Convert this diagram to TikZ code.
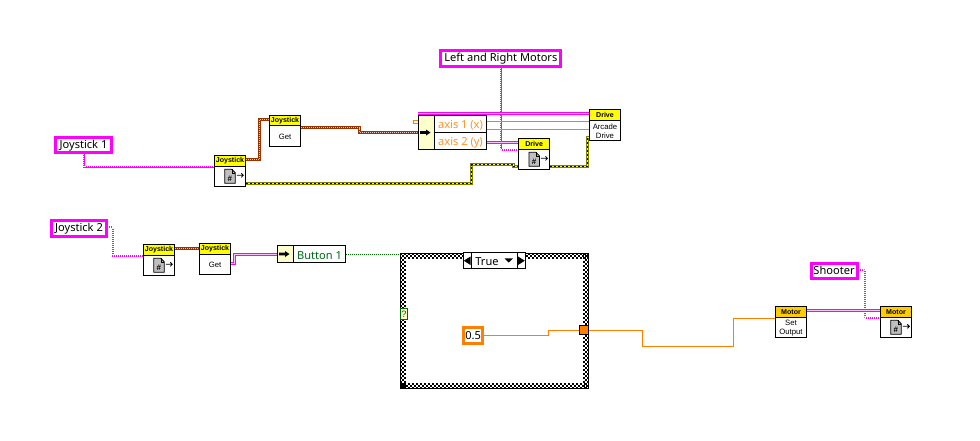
\documentclass[tikz,border=0pt]{standalone}
\usepackage{fontspec}
\setmainfont{Noto Sans}
\newfontfamily\smallfont{Liberation Sans}
\definecolor{refpink}{HTML}{FF00FF}
\definecolor{brownw}{HTML}{993300}
\definecolor{olivew}{HTML}{7F7F00}
\definecolor{yellw}{HTML}{FFFF00}
\definecolor{dblorange}{HTML}{FF8000}
\definecolor{motorhead}{HTML}{FFCC00}
\definecolor{palefill}{HTML}{FFFFCC}
\definecolor{greenw}{HTML}{006600}
\definecolor{docgrey}{HTML}{BFBFBF}
\pgfdeclarelayer{frame}
\pgfdeclarelayer{wires}
\pgfsetlayers{frame,wires,main}
\newcommand{\lowr}[1]{\raisebox{-0.9pt}{#1}}
\tikzset{
  x=0.75pt,y=-0.75pt,
  wirejoin/.style={line join=miter,line cap=butt},
  refone/.style={wirejoin,draw=refpink,line width=1.5pt,postaction={draw=white,line width=0.8pt,dash pattern=on 0.75pt off 0.75pt}},
  reftwo/.style={wirejoin,draw=refpink,line width=2.4pt,postaction={draw=refpink!25!white,line width=0.6pt}},
  brownwire/.style={wirejoin,draw=brownw,line width=2.4pt,postaction={draw=brownw!25!white,line width=0.6pt,dash pattern=on 0.75pt off 0.75pt}},
  yellowwire/.style={wirejoin,draw=olivew,line width=2.4pt,postaction={draw=yellw,line width=0.9pt},postaction={draw=black,line width=0.9pt,dash pattern=on 1.5pt off 1.5pt}},
  orangewire/.style={wirejoin,draw=dblorange,line width=0.8pt},
  greenwire/.style={draw=greenw,line width=0.75pt,dash pattern=on 0.75pt off 0.75pt},
  ctl/.style={draw=refpink,line width=2.25pt,fill=white,inner sep=0pt,font=\fontsize{8.3}{10}\selectfont,anchor=center},
  blockbody/.style={draw=black,line width=0.75pt,fill=white,inner sep=0pt,minimum width=23.5pt,minimum height=23.5pt},
  blockhead/.style={draw=black,line width=0.75pt,inner sep=0pt,minimum width=23.5pt,minimum height=8pt,font=\smallfont\bfseries\fontsize{5.3}{6}\selectfont,anchor=north},
  blockcaption/.style={font=\smallfont\fontsize{5.8}{6.5}\selectfont,align=center,inner sep=0pt},
  ubox/.style={draw=black,line width=0.75pt,fill=white,inner sep=0pt},
  uleft/.style={draw=black,line width=0.75pt,fill=palefill,inner sep=0pt},
  utext/.style={font=\fontsize{8.3}{10}\selectfont,inner sep=0pt},
  chk/.style={black,line width=1.5pt,dash pattern=on 1.5pt off 1.5pt},
}
\newcommand{\lvblock}[5]{%
  \node[blockbody] (#1) at (#2,#3) {};
  \node[blockhead,fill=#4] (#1head) at (#1.north) {#5};
}
\newcommand{\docicon}[1]{%
  \begin{scope}[shift={(#1.north west)}]
    \fill[docgrey,draw=black,line width=0.6pt] (11,14.5) -- (18,14.5) -- (21.5,18) -- (21.5,28.5) -- (11,28.5) -- cycle;
    \draw[black,line width=0.5pt] (18,14.5) -- (18,18) -- (21.5,18);
    \node[inner sep=0pt,font=\smallfont\bfseries\fontsize{6}{6}\selectfont] at (16,23.5) {\#};
    \draw[black,line width=0.6pt] (23,20.5) -- (29.5,20.5) (27.5,18.5) -- (29.5,20.5) -- (27.5,22.5);
  \end{scope}
}
\newcommand{\fatarrow}[2]{%
  \fill[black] (#1-5,#2-1.3) -- (#1+1,#2-1.3) -- (#1+1,#2-3) -- (#1+5.5,#2) -- (#1+1,#2+3) -- (#1+1,#2+1.3) -- (#1-5,#2+1.3) -- cycle;
}
\begin{document}
\begin{tikzpicture}
\begin{pgfonlayer}{frame}
\fill[white] (0,0) rectangle (980,440);
\node[fill=white,inner sep=0pt,outer sep=0pt,minimum width=141.75pt,minimum height=102pt] (case) at (494.5,321) {};
\foreach \o/\ph in {1/0,3/1.5,5/0}{
  \draw[chk,dash phase=\ph pt] (400,253+\o) -- (589,253+\o);
  \draw[chk,dash phase=\ph pt] (400,389-\o) -- (589,389-\o);
  \draw[chk,dash phase=\ph pt] (400+\o,253) -- (400+\o,389);
  \draw[chk,dash phase=\ph pt] (589-\o,253) -- (589-\o,389);
}
\draw[black,line width=0.75pt] (400.5,253.5) rectangle (588.5,388.5);
\end{pgfonlayer}
\useasboundingbox (0,0) rectangle (980,440);

% controls
\node[ctl,minimum width=90pt,minimum height=11.5pt] (lrm) at (500.85,58.5) {\lowr{Left and Right Motors}};
\node[ctl,minimum width=41.5pt,minimum height=11.5pt] (js1) at (83.5,145.2) {\lowr{Joystick 1}};
\node[ctl,minimum width=41.5pt,minimum height=11.5pt] (js2) at (79,228.5) {\lowr{Joystick 2}};
\node[ctl,minimum width=34.5pt,minimum height=11.5pt] (shooter) at (834,270.8) {\lowr{Shooter}};

% blocks
\lvblock{jopen1}{230}{171}{yellw}{Joystick}\docicon{jopen1}
\lvblock{jget1}{285}{130.85}{yellw}{Joystick}
\node[blockcaption] at ([yshift=-4.4pt]jget1.center) {Get};
\lvblock{jopen2}{159}{260}{yellw}{Joystick}\docicon{jopen2}
\lvblock{jget2}{215}{259}{yellw}{Joystick}
\node[blockcaption] at ([yshift=-4.4pt]jget2.center) {Get};
\lvblock{dopen}{534.15}{154}{yellw}{Drive}\docicon{dopen}
\lvblock{darcade}{605}{125}{yellw}{Drive}
\node[blockcaption] at ([yshift=-4.6pt]darcade.center) {Arcade\\Drive};
\lvblock{mset}{791}{322}{motorhead}{Motor}
\node[blockcaption] at ([yshift=-4.6pt]mset.center) {Set\\Output};
\lvblock{mopen}{896}{322}{motorhead}{Motor}\docicon{mopen}

% unbundle axes
\node[draw=dblorange,line width=0.75pt,fill=white,inner sep=0pt,minimum width=3.7pt,minimum height=2.2pt] (stub) at (415.6,122) {};
\node[ubox,minimum width=51.3pt,minimum height=25.8pt] (axes) at (452.5,132.5) {};
\node[uleft,minimum width=12pt,minimum height=25.8pt] (axesl) at (426.3,132.5) {};
\draw[black,line width=0.75pt] (axesl.east |- axes.center) -- (axes.east);
\node[utext,text=dblorange!85!white] (ax1) at (460.5,125) {axis 1 (x)};
\node[utext,text=dblorange!85!white] (ax2) at (460.5,142.5) {axis 2 (y)};
\fatarrow{425}{132.5}

% unbundle button
\node[ubox,minimum width=51.3pt,minimum height=12.8pt] (btn) at (311.5,253.8) {};
\node[uleft,minimum width=12.3pt,minimum height=12.8pt] (btnl) at (285.5,253.8) {};
\node[utext,text=greenw!80!teal] (btnt) at (319.5,255.2) {Button 1};
\fatarrow{284}{254}

% case parts
\node[ubox,minimum width=46.5pt,minimum height=12pt] (sel) at (494.3,260.7) {};
\node[ubox,minimum width=34.5pt,minimum height=12pt] (selm) at (494.3,260.7) {};
\node[utext] (true) at (487,262) {True};
\fill[black] (504.5,258.3) -- (513,258.3) -- (508.75,262.5) -- cycle;
\fill[black] (463.8,260.7) -- (470.5,256.5) -- (470.5,265) -- cycle;
\fill[black] (518,256.5) -- (524.8,260.7) -- (518,265) -- cycle;
\node[draw=greenw,line width=0.75pt,fill=palefill,inner sep=0pt,minimum width=5.5pt,minimum height=8.3pt,text=greenw,font=\smallfont\fontsize{7}{8}\selectfont] (sel2) at (404,314.2) {?};
\node[draw=dblorange,line width=2.25pt,fill=white,inner sep=0pt,minimum width=14pt,minimum height=12.2pt,font=\fontsize{8.3}{10}\selectfont] (val) at (473.2,335.5) {\lowr{0.5}};
\node[draw=black,line width=0.75pt,fill=dblorange,inner sep=0pt,minimum width=6.5pt,minimum height=6.5pt] (tunnel) at (584.3,330.3) {};

% wires
\begin{pgfonlayer}{wires}
\draw[refone] (js1.south) |- (jopen1.west |- 0,166.5);
\draw[refone] (js2.east |- 0,227) -- (113,227) -- (113,256) -- (jopen2.west |- 0,256);
\draw[refone] (lrm.south) |- (dopen.west |- 0,150);
\draw[refone] (shooter.east |- 0,270) -- (865,270) -- (865,318) -- (mopen.west |- 0,318);

\draw[reftwo] (axes.west |- 0,113.5) -- (darcade.west |- 0,113.5);
\draw[reftwo] (axes.east |- 0,142.5) -- (dopen.west |- 0,142.5);
\draw[reftwo] (jget2.east |- 0,263.5) -- (234.5,263.5) -- (234.5,254.5) -- (btn.west |- 0,254.5);
\draw[reftwo] (mset.east |- 0,310.5) -- (mopen.west |- 0,310.5);

\draw[brownwire] (jopen1.east |- 0,159.5) -- (259.5,159.5) -- (259.5,119.5) -- (jget1.west |- 0,119.5);
\draw[brownwire] (jget1.east |- 0,127.5) -- (359.5,127.5) -- (359.5,132.5) -- (axes.west |- 0,132.5);
\draw[brownwire] (jopen2.east |- 0,248.5) -- (jget2.west |- 0,248.5);

\draw[yellowwire] (jopen1.east |- 0,183.5) -- (471.5,183.5) -- (471.5,164.5) -- (513.5,164.5) -- (513.5,166.5) -- (dopen.west |- 0,166.5);
\draw[yellowwire] (dopen.east |- 0,166.5) -- (587.5,166.5) -- (587.5,137.5) -- (darcade.west |- 0,137.5);

\draw[orangewire] (axes.east |- 0,121.5) -- (darcade.west |- 0,121.5);
\draw[orangewire] (axes.east |- 0,129.5) -- (darcade.west |- 0,129.5);
\draw[orangewire] (val.east) -- (548.5,335.5) -- (548.5,330.5) -- (tunnel.west |- 0,330.5);
\draw[orangewire] (tunnel.east |- 0,330.5) -- (642.5,330.5) -- (642.5,346.5) -- (733.5,346.5) -- (733.5,318.5) -- (mset.west |- 0,318.5);
\draw[greenwire] (btn.east |- 0,254.5) -- (case.west |- 0,254.5);
\end{pgfonlayer}
\end{tikzpicture}
\end{document}
